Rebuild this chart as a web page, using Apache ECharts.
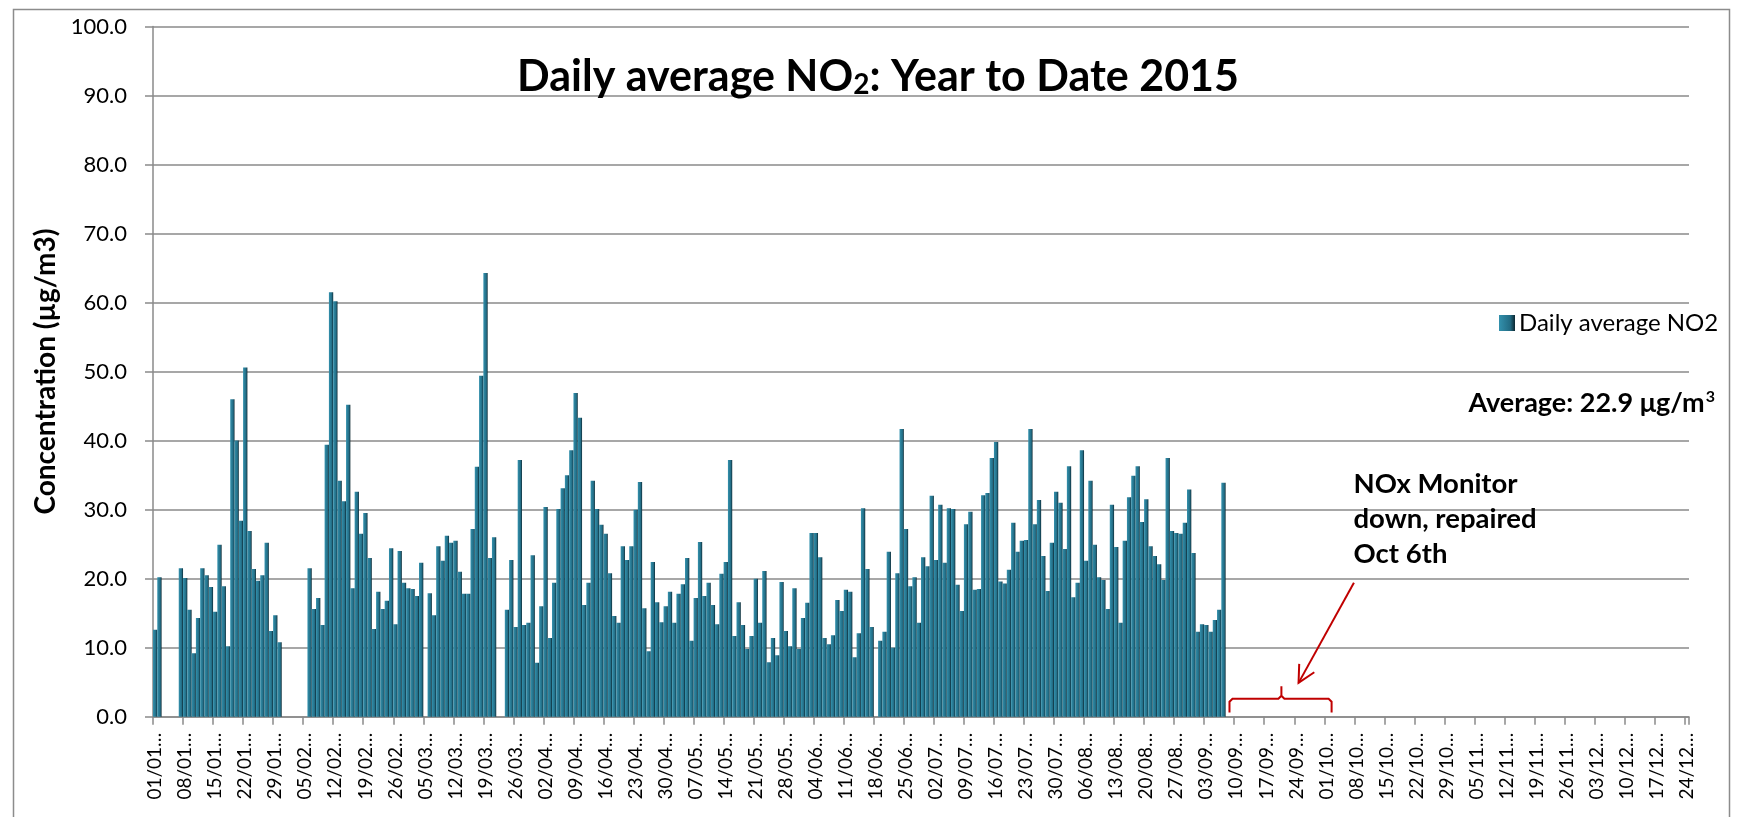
<!DOCTYPE html>
<html>
<head>
<meta charset="utf-8">
<script src="https://cdn.jsdelivr.net/npm/echarts@6/dist/echarts.min.js"></script>
<style>html,body{margin:0;padding:0;background:#fff}#c{width:1751px;height:817px}</style>
</head>
<body>
<div id="c"></div>
<script>
// ---- data ----
const YEAR = 2015;
const DAY_COUNT = 358; // 01/01 .. 24/12
const seriesName = 'Daily average NO2';
const averageText = 'Average: 22.9 μg/m';
const yTicks = [0, 10, 20, 30, 40, 50, 60, 70, 80, 90, 100];
// daily values from 01/01 (null = no data)
const no2Values = [
12.6,20.2,null,null,null,null,21.5,20.1,15.5,9.2,14.3,21.5,20.5,18.8,15.2,24.9,18.9,10.2,46.0,40.0,
28.4,50.6,26.9,21.4,19.7,20.5,25.2,12.4,14.7,10.8,null,null,null,null,null,null,21.5,15.6,17.2,13.3,
39.4,61.5,60.2,34.2,31.2,45.2,18.6,32.6,26.5,29.5,23.0,12.7,18.1,15.6,16.8,24.4,13.4,24.0,19.4,18.6,
18.5,17.5,22.3,null,17.9,14.7,24.7,22.6,26.2,25.2,25.5,21.0,17.8,17.8,27.2,36.2,49.4,64.3,23.0,26.0,
null,null,15.5,22.7,13.0,37.2,13.3,13.6,23.4,7.8,16.0,30.4,11.4,19.4,30.1,33.1,35.0,38.6,46.9,43.3,
16.2,19.4,34.2,30.1,27.8,26.5,20.8,14.6,13.6,24.7,22.7,24.7,30.0,34.0,15.7,9.5,22.4,16.6,13.7,16.0,
18.1,13.6,17.8,19.2,23.0,11.0,17.2,25.3,17.5,19.4,16.2,13.4,20.7,22.4,37.2,11.7,16.6,13.3,9.8,11.7,
20.0,13.6,21.1,7.9,11.4,8.9,19.5,12.4,10.2,18.6,9.8,14.3,16.5,26.6,26.6,23.1,11.4,10.5,11.8,16.9,
15.3,18.4,18.1,8.6,12.1,30.2,21.4,13.0,null,11.0,12.3,23.9,10.0,20.8,41.7,27.2,18.9,20.2,13.6,23.1,
21.8,32.0,22.7,30.7,22.3,30.2,30.1,19.1,15.3,27.9,29.7,18.4,18.5,32.1,32.4,37.5,39.8,19.6,19.3,21.3,
28.1,23.9,25.5,25.6,41.7,27.9,31.4,23.3,18.2,25.2,32.6,31.0,24.3,36.3,17.3,19.4,38.6,22.6,34.2,24.9,
20.2,19.8,15.6,30.7,24.6,13.6,25.5,31.8,34.9,36.3,28.2,31.5,24.7,23.3,22.1,19.8,37.5,26.9,26.6,26.5,
28.1,32.9,23.7,12.3,13.4,13.3,12.3,14.0,15.5,33.9
];
// category labels dd/mm
const categories = [];
for (let i = 0; i < DAY_COUNT; i++) {
  const d = new Date(Date.UTC(YEAR, 0, 1 + i));
  categories.push(String(d.getUTCDate()).padStart(2,'0') + '/' + String(d.getUTCMonth()+1).padStart(2,'0'));
}
const seriesData = categories.map((c, i) => (i < no2Values.length ? no2Values[i] : null));

const FONT = 'Lato, "Open Sans", sans-serif';
const GRID = '#8a8a8a';
const barColor = new echarts.graphic.LinearGradient(0, 0, 1, 0, [
  {offset: 0, color: '#3391ad'},
  {offset: 0.7, color: '#226b83'},
  {offset: 1, color: '#0b2630'}
]);

const chart = echarts.init(document.getElementById('c'), null, {renderer: 'canvas'});
const option = {
  animation: false,
  backgroundColor: '#fff',
  textStyle: {fontFamily: FONT},
  title: {
    text: '{a|Daily average NO}{s|2}{a|: Year to Date 2015}',
    left: 873, top: 51, textAlign: 'center',
    textStyle: {rich: {
      a: {fontFamily: FONT, fontWeight: 'bold', fontSize: 43, color: '#000'},
      s: {fontFamily: FONT, fontWeight: 'bold', fontSize: 28, color: '#000', verticalAlign: 'bottom'}
    }}
  },
  legend: {
    data: [seriesName], left: 1494, top: 306, itemWidth: 16, itemHeight: 16, itemGap: 6,
    icon: 'rect',
    textStyle: {fontFamily: FONT, fontSize: 24, color: '#000', padding: [0,0,0,-1]}
  },
  grid: {left: 153, right: 62, top: 26.5, bottom: 100.3, containLabel: false},
  xAxis: {
    type: 'category', data: categories, boundaryGap: true,
    axisLine: {lineStyle: {color: GRID, width: 1.5}},
    axisTick: {show: true, interval: 6, length: 8, alignWithLabel: false, lineStyle: {color: GRID, width: 1.5}},
    axisLabel: {interval: 6, rotate: 90, margin: 16, fontFamily: FONT, fontSize: 19, color: '#000',
      formatter: v => v + '…'},
    splitLine: {show: false}
  },
  yAxis: {
    type: 'value', min: yTicks[0], max: yTicks[yTicks.length-1], interval: 10,
    name: 'Concentration (µg/m3)', nameLocation: 'middle', nameGap: 90, nameRotate: 90,
    nameTextStyle: {fontFamily: FONT, fontWeight: 'bold', fontSize: 28, color: '#000'},
    axisLine: {show: true, lineStyle: {color: GRID, width: 1.5}},
    axisTick: {show: true, length: 8, lineStyle: {color: GRID, width: 1.5}},
    axisLabel: {margin: 26, fontFamily: FONT, fontSize: 22, color: '#000', formatter: v => v.toFixed(1)},
    splitLine: {lineStyle: {color: GRID, width: 1.5}}
  },
  series: [{
    name: seriesName, type: 'bar', data: seriesData,
    barCategoryGap: '0%', barGap: '0%',
    itemStyle: {color: barColor}
  }]
};
chart.setOption(option);

// ---- annotations positioned through the axes ----
const p0 = chart.convertToPixel({gridIndex: 0}, [0, 0]);
const p1 = chart.convertToPixel({gridIndex: 0}, [1, 0]);
const bw = p1[0] - p0[0];
const fx = b => p0[0] - bw / 2 + b * bw;           // b = day boundary units from 01/01
const fy = v => chart.convertToPixel({gridIndex: 0}, [0, v])[1];

const red = '#c00000';
const bx0 = fx(250.9), bx1 = fx(274.7), bxp = fx(263.0);
const yEnd = fy(0.6), yH = fy(2.6), yPk = fy(4.4);
const bracePts = [
  [bx0, yEnd], [bx0, yH + 3], [bx0 + 3, yH], [bxp - 3, yH], [bxp, yH - 3], [bxp, yPk],
  [bxp, yH - 3], [bxp + 3, yH], [bx1 - 3, yH], [bx1, yH + 3], [bx1, yEnd]
];
const ax0 = fx(279.9), ay0 = fy(19.4), ax1 = fx(267.0), ay1 = fy(4.9);
const dx = ax0 - ax1, dy = ay0 - ay1, dl = Math.hypot(dx, dy);
const ux = dx / dl, uy = dy / dl, hl = 19, ang = 27 * Math.PI / 180;
const w1 = [ax1 + hl * (ux * Math.cos(ang) - uy * Math.sin(ang)), ay1 + hl * (ux * Math.sin(ang) + uy * Math.cos(ang))];
const w2 = [ax1 + hl * (ux * Math.cos(-ang) - uy * Math.sin(-ang)), ay1 + hl * (ux * Math.sin(-ang) + uy * Math.cos(-ang))];

chart.setOption({
  graphic: [
    {type: 'rect', left: 11, top: 7, shape: {width: 1716, height: 840}, style: {fill: null, stroke: '#8c8c8c', lineWidth: 1.5}, silent: true, z: -1},
    {type: 'polyline', shape: {points: bracePts}, style: {stroke: red, lineWidth: 2, fill: null}, z: 10},
    {type: 'line', shape: {x1: ax0, y1: ay0, x2: ax1, y2: ay1}, style: {stroke: red, lineWidth: 2}, z: 10},
    {type: 'polyline', shape: {points: [w1, [ax1, ay1], w2]}, style: {stroke: red, lineWidth: 2, fill: null}, z: 10},
    {type: 'text', x: fx(279.8), y: fy(36.3), style: {
      text: 'NOx Monitor\ndown, repaired\nOct 6th', fontFamily: FONT, fontWeight: 'bold', fontSize: 27.5,
      lineHeight: 35, fill: '#000', textAlign: 'left', textVerticalAlign: 'top'}, z: 10},
    {type: 'text', right: 36, top: 389, style: {
      text: '{a|' + averageText + '}{s|3}', fill: '#000',
      rich: {a: {fontFamily: FONT, fontWeight: 'bold', fontSize: 27, color: '#000'},
             s: {fontFamily: FONT, fontWeight: 'bold', fontSize: 16, color: '#000', verticalAlign: 'top', padding: [0,0,12,1]}}
    }, z: 10}
  ]
});
</script>
</body>
</html>
